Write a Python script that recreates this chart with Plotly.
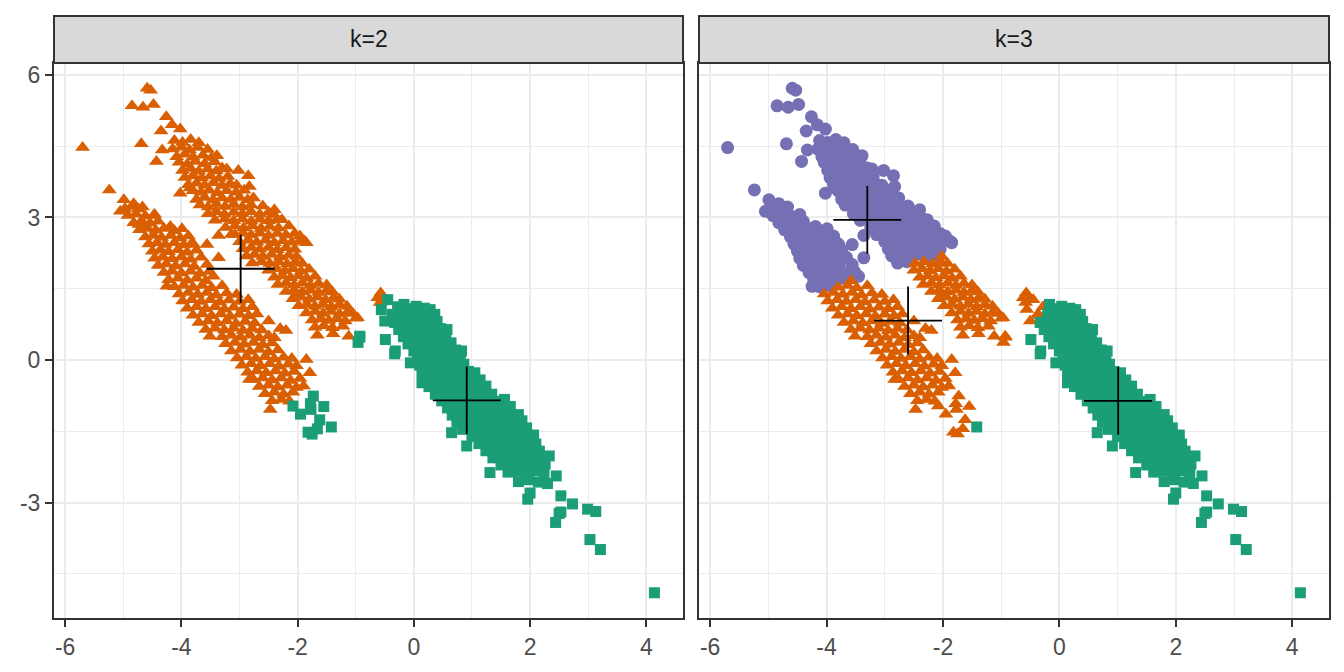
import numpy as np
import plotly.graph_objects as go

# ---------------- data ----------------
# upper (left-hand) band
U_x = [-4.59, -4.53, -4.85, -4.66, -4.48, -4.26, -4.16, -4.02, -4.35, -4.69, -4.33, -4.43, -4.02, -3.85,
       -3.39, -3.22, -3.02, -2.85, -2.83, -2.40, -2.27, -1.88, -1.85, -3.56, -3.36, -3.14, -3.36,
       -4.12, -3.98, -3.84, -3.70,
       -4.15, -4.00, -3.86, -3.72, -3.55,
       -4.08, -3.94, -3.80, -3.63, -3.48,
       -4.04, -3.90, -3.76, -3.60, -3.43,
       -3.98, -3.84, -3.70, -3.55, -3.40, -3.30,
       -3.94, -3.80, -3.65, -3.50, -3.35, -3.20,
       -3.88, -3.74, -3.60, -3.45, -3.30, -3.16, -3.05,
       -3.80, -3.66, -3.52, -3.38, -3.22, -3.06, -2.92,
       -3.74, -3.60, -3.45, -3.30, -3.15, -3.00, -2.86, -2.76,
       -3.68, -3.54, -3.40, -3.25, -3.10, -2.95, -2.80, -2.60,
       -3.54, -3.40, -3.26, -3.10, -2.95, -2.80, -2.65, -2.50, -2.42,
       -3.42, -3.25, -3.10, -2.95, -2.80, -2.65, -2.50, -2.35,
       -3.24, -3.08, -2.93, -2.78, -2.63, -2.48, -2.33, -2.15,
       -3.08, -2.94, -2.80, -2.65, -2.50, -2.35, -2.20, -2.05, -1.96,
       -3.00, -2.85, -2.70, -2.55, -2.40, -2.25, -2.10, -1.95,
       -2.94, -2.80, -2.65, -2.50, -2.35, -2.20, -2.05,
       -2.88, -2.74, -2.60, -2.45, -2.30, -2.15, -2.02,
       -2.78, -2.62, -2.48, -2.33, -2.18, -2.04, -1.92,
       -2.50, -2.36, -2.22, -2.08, -1.94, -1.80,
       -2.40, -2.26, -2.12, -1.98, -1.84, -1.70,
       -2.34, -2.20, -2.06, -1.92, -1.78, -1.64, -1.50,
       -2.20, -2.06, -1.92, -1.78, -1.64, -1.50, -1.40,
       -2.08, -1.94, -1.80, -1.66, -1.52, -1.38, -1.28,
       -1.98, -1.84, -1.70, -1.56, -1.42, -1.28, -1.15,
       -1.85, -1.70, -1.56, -1.42, -1.28, -1.14, -1.05,
       -1.75, -1.60, -1.46, -1.32, -1.18, -1.00,
       -1.70, -1.55, -1.40, -1.22,
       -1.66, -1.39, -1.12, -0.93, -0.96,
       -2.05, -0.57, -0.62, -0.53, -0.58, -0.50, -0.97, -0.56, -0.45]
U_y = [5.72, 5.68, 5.35, 5.32, 5.38, 5.12, 4.95, 4.86, 4.82, 4.55, 4.42, 4.18, 3.51, 3.62,
       4.30, 4.02, 3.99, 3.88, 3.65, 3.16, 2.95, 2.50, 2.47, 2.43, 2.15, 2.64, 2.62,
       4.62, 4.58, 4.64, 4.57,
       4.44, 4.48, 4.42, 4.47, 4.43,
       4.28, 4.33, 4.27, 4.31, 4.26,
       4.16, 4.12, 4.18, 4.13, 4.17,
       3.99, 4.03, 3.97, 4.02, 3.98, 4.04,
       3.84, 3.88, 3.83, 3.87, 3.82, 3.86,
       3.69, 3.72, 3.68, 3.73, 3.67, 3.71, 3.68,
       3.56, 3.53, 3.57, 3.52, 3.56, 3.53, 3.57,
       3.38, 3.42, 3.37, 3.41, 3.38, 3.42, 3.37, 3.41,
       3.26, 3.22, 3.27, 3.23, 3.27, 3.22, 3.26, 3.24,
       3.08, 3.12, 3.07, 3.11, 3.08, 3.12, 3.07, 3.11, 3.06,
       2.94, 2.97, 2.93, 2.97, 2.92, 2.96, 2.93, 2.97,
       2.79, 2.82, 2.78, 2.82, 2.77, 2.81, 2.78, 2.82,
       2.64, 2.67, 2.63, 2.67, 2.62, 2.66, 2.63, 2.66, 2.61,
       2.49, 2.52, 2.48, 2.52, 2.47, 2.51, 2.48, 2.52,
       2.34, 2.37, 2.33, 2.37, 2.32, 2.36, 2.33,
       2.19, 2.22, 2.18, 2.22, 2.17, 2.21, 2.18,
       2.04, 2.07, 2.03, 2.07, 2.02, 2.06, 2.03,
       1.89, 1.92, 1.88, 1.92, 1.87, 1.91,
       1.74, 1.77, 1.73, 1.77, 1.72, 1.76,
       1.59, 1.62, 1.58, 1.62, 1.57, 1.61, 1.58,
       1.44, 1.47, 1.43, 1.47, 1.42, 1.46, 1.43,
       1.29, 1.32, 1.28, 1.32, 1.27, 1.31, 1.28,
       1.14, 1.17, 1.13, 1.17, 1.12, 1.16, 1.13,
       0.99, 1.02, 0.98, 1.02, 0.97, 1.01, 0.98,
       0.84, 0.87, 0.83, 0.87, 0.82, 0.88,
       0.69, 0.72, 0.68, 0.71,
       0.52, 0.55, 0.50, 0.48, 0.37,
       1.34, 1.41, 1.31, 1.30, 1.21, 0.82, 0.89, 1.06, 1.27]

# lower (left-hand) band
L_x = [-5.70, -5.24, -4.99, -5.05, -4.82, -4.67, -4.73, -4.48, -4.19, -3.99, -3.79, -3.45, -4.25, -3.51, -2.83, -2.47,
       -4.97, -4.85, -4.74,
       -4.92, -4.78, -4.62, -4.46,
       -4.82, -4.68, -4.54, -4.40,
       -4.72, -4.58, -4.44, -4.30, -4.12,
       -4.62, -4.48, -4.34, -4.18, -4.02, -3.88,
       -4.56, -4.42, -4.28, -4.12, -3.96, -3.82,
       -4.50, -4.36, -4.22, -4.06, -3.90, -3.74,
       -4.46, -4.32, -4.16, -4.00, -3.84, -3.66,
       -4.40, -4.26, -4.10, -3.94, -3.78, -3.56,
       -4.30, -4.16, -4.00, -3.84, -3.68, -3.52,
       -4.22, -4.06, -3.90, -3.74, -3.58,
       -4.12, -3.96, -3.80, -3.64, -3.48, -3.30,
       -4.04, -3.88, -3.72, -3.56, -3.40, -3.22, -3.05,
       -3.98, -3.82, -3.66, -3.50, -3.34, -3.18, -3.00, -2.85,
       -3.90, -3.74, -3.58, -3.42, -3.26, -3.10, -2.94, -2.78,
       -3.80, -3.64, -3.48, -3.32, -3.16, -3.00, -2.84, -2.70,
       -3.70, -3.54, -3.38, -3.22, -3.06, -2.90, -2.74, -2.50,
       -3.58, -3.42, -3.26, -3.10, -2.94, -2.78, -2.62, -2.30, -2.20,
       -3.30, -3.14, -2.98, -2.82, -2.66, -2.50, -2.40,
       -3.24, -3.08, -2.92, -2.76, -2.60, -2.44,
       -3.14, -2.98, -2.82, -2.66, -2.50, -2.34,
       -3.04, -2.88, -2.72, -2.56, -2.40, -2.24, -2.10, -1.85,
       -2.96, -2.80, -2.64, -2.48, -2.32, -2.16, -2.02,
       -2.86, -2.70, -2.54, -2.38, -2.22, -2.06, -1.79,
       -2.76, -2.60, -2.44, -2.28, -2.12, -1.96,
       -2.66, -2.50, -2.34, -2.18, -2.02, -1.90,
       -2.56, -2.40, -2.24, -2.08,
       -2.44, -2.28, -2.14,
       -1.73, -2.08, -1.95, -1.55, -1.78, -1.62, -1.77, -1.75, -1.82, -1.66, -1.42]
L_y = [4.47, 3.58, 3.37, 3.13, 3.29, 3.22, 2.85, 3.04, 2.81, 2.76, 2.43, 1.76, 1.55, 0.50, -0.41, -1.04,
       3.19, 3.23, 3.18,
       3.04, 3.07, 3.03, 3.06,
       2.89, 2.92, 2.88, 2.92,
       2.74, 2.77, 2.73, 2.77, 2.72,
       2.59, 2.62, 2.58, 2.62, 2.57, 2.61,
       2.44, 2.47, 2.43, 2.47, 2.42, 2.46,
       2.29, 2.32, 2.28, 2.32, 2.27, 2.31,
       2.14, 2.17, 2.13, 2.17, 2.12, 2.16,
       1.99, 2.02, 1.98, 2.02, 1.97, 2.01,
       1.84, 1.87, 1.83, 1.87, 1.82, 1.86,
       1.69, 1.72, 1.68, 1.72, 1.67,
       1.54, 1.57, 1.53, 1.57, 1.52, 1.56,
       1.39, 1.42, 1.38, 1.42, 1.37, 1.41, 1.38,
       1.24, 1.27, 1.23, 1.27, 1.22, 1.26, 1.23, 1.27,
       1.09, 1.12, 1.08, 1.12, 1.07, 1.11, 1.08, 1.12,
       0.94, 0.97, 0.93, 0.97, 0.92, 0.96, 0.93, 0.97,
       0.79, 0.82, 0.78, 0.82, 0.77, 0.81, 0.78, 0.82,
       0.64, 0.67, 0.63, 0.67, 0.62, 0.66, 0.63, 0.66, 0.62,
       0.49, 0.52, 0.48, 0.52, 0.47, 0.51, 0.47,
       0.34, 0.37, 0.33, 0.37, 0.32, 0.36,
       0.19, 0.22, 0.18, 0.22, 0.17, 0.21,
       0.04, 0.07, 0.03, 0.07, 0.02, 0.06, 0.03, 0.01,
       -0.11, -0.08, -0.12, -0.08, -0.13, -0.09, -0.12,
       -0.26, -0.23, -0.27, -0.23, -0.28, -0.24, -0.27,
       -0.41, -0.38, -0.42, -0.38, -0.43, -0.39,
       -0.56, -0.53, -0.57, -0.53, -0.58, -0.55,
       -0.71, -0.68, -0.72, -0.68,
       -0.86, -0.83, -0.87,
       -0.76, -0.97, -1.14, -0.98, -0.92, -1.26, -1.04, -1.56, -1.52, -1.45, -1.41]

# right-hand band
G_x = [-0.17, 0.28, -0.93, -0.49, -0.32, 0.57, 0.82, -0.06, 0.14, 0.37, 0.65, 0.91, 1.31,
       2.33, 2.45, 2.53, 1.96, 2.00, 2.73, 2.99, 3.13, 2.53, 2.44, 2.50, 3.03, 3.21, 4.14, -0.33, -0.37,
       -0.28, -0.12, 0.04, 0.18,
       -0.35, -0.20, -0.05, 0.10, 0.25, 0.36,
       -0.33, -0.18, -0.03, 0.12, 0.27, 0.40,
       -0.26, -0.12, 0.03, 0.18, 0.33, 0.46,
       -0.18, -0.04, 0.11, 0.26, 0.41, 0.55,
       -0.10, 0.05, 0.20, 0.35, 0.50, 0.64,
       0.00, 0.15, 0.30, 0.45, 0.60, 0.72,
       0.06, 0.21, 0.36, 0.51, 0.66, 0.80,
       0.10, 0.25, 0.40, 0.55, 0.70, 0.86,
       0.14, 0.30, 0.46, 0.62, 0.78, 0.94, 1.05,
       0.20, 0.36, 0.52, 0.68, 0.84, 1.00, 1.14,
       0.26, 0.42, 0.58, 0.74, 0.90, 1.06, 1.24,
       0.40, 0.56, 0.72, 0.88, 1.04, 1.20, 1.34,
       0.48, 0.64, 0.80, 0.96, 1.12, 1.28, 1.44, 1.56,
       0.58, 0.74, 0.90, 1.06, 1.22, 1.38, 1.54, 1.66,
       0.66, 0.82, 0.98, 1.14, 1.30, 1.46, 1.62, 1.80,
       0.74, 0.90, 1.06, 1.22, 1.38, 1.54, 1.70, 1.86,
       0.84, 1.00, 1.16, 1.32, 1.48, 1.64, 1.80, 1.94,
       1.00, 1.16, 1.32, 1.48, 1.64, 1.80, 1.96, 2.06,
       1.12, 1.28, 1.44, 1.60, 1.76, 1.92, 2.10,
       1.24, 1.40, 1.56, 1.72, 1.88, 2.04, 2.16,
       1.36, 1.52, 1.68, 1.84, 2.00, 2.16,
       1.50, 1.66, 1.82, 1.98, 2.14, 2.26,
       1.62, 1.78, 1.94, 2.10, 2.24,
       1.80, 1.98, 2.14, 2.30]
G_y = [1.17, 1.06, 0.50, 0.43, 0.19, 0.64, 0.19, -0.06, -0.48, -0.72, -1.53, -1.81, -2.37,
       -2.02, -2.44, -2.86, -2.93, -2.80, -3.03, -3.14, -3.19, -3.20, -3.42, -3.23, -3.78, -3.99, -4.90, 0.13, 0.96,
       1.12, 1.08, 1.13, 1.09,
       0.94, 0.97, 0.93, 0.97, 0.92, 0.96,
       0.79, 0.82, 0.78, 0.82, 0.77, 0.81,
       0.64, 0.67, 0.63, 0.67, 0.62, 0.66,
       0.49, 0.52, 0.48, 0.52, 0.47, 0.51,
       0.34, 0.37, 0.33, 0.37, 0.32, 0.36,
       0.19, 0.22, 0.18, 0.22, 0.17, 0.21,
       0.04, 0.07, 0.03, 0.07, 0.02, 0.06,
       -0.11, -0.08, -0.12, -0.08, -0.13, -0.09,
       -0.26, -0.23, -0.27, -0.23, -0.28, -0.24, -0.27,
       -0.41, -0.38, -0.42, -0.38, -0.43, -0.39, -0.42,
       -0.56, -0.53, -0.57, -0.53, -0.58, -0.54, -0.55,
       -0.71, -0.68, -0.72, -0.68, -0.73, -0.69, -0.72,
       -0.86, -0.83, -0.87, -0.83, -0.88, -0.84, -0.87, -0.83,
       -1.01, -0.98, -1.02, -0.98, -1.03, -0.99, -1.02, -0.98,
       -1.16, -1.13, -1.17, -1.13, -1.18, -1.14, -1.17, -1.15,
       -1.31, -1.28, -1.32, -1.28, -1.33, -1.29, -1.32, -1.28,
       -1.46, -1.43, -1.47, -1.43, -1.48, -1.44, -1.47, -1.43,
       -1.61, -1.58, -1.62, -1.58, -1.63, -1.59, -1.62, -1.58,
       -1.76, -1.73, -1.77, -1.73, -1.78, -1.74, -1.77,
       -1.91, -1.88, -1.92, -1.88, -1.93, -1.89, -1.92,
       -2.06, -2.03, -2.07, -2.03, -2.08, -2.04,
       -2.21, -2.18, -2.22, -2.18, -2.23, -2.19,
       -2.36, -2.33, -2.37, -2.33, -2.38,
       -2.56, -2.52, -2.57, -2.60]

# cluster centres
k2_cx = [-2.98, 0.91]
k2_cy = [1.92, -0.85]
k3_cx = [-3.30, -2.60, 1.01]
k3_cy = [2.95, 0.83, -0.86]

facet_labels = ["k=2", "k=3"]
x_ticks = [-6, -4, -2, 0, 2, 4]
y_ticks = [-3, 0, 3, 6]

# ---------------- styling ----------------
ORANGE, GREEN, PURPLE = "#D95F02", "#1B9E77", "#7570B3"
k2_style = [("triangle-up", ORANGE, 13), ("square", GREEN, 11)]
k3_style = [("circle", PURPLE, 13), ("triangle-up", ORANGE, 13), ("square", GREEN, 11)]

FONT = "Liberation Sans Narrow, Arial Narrow, Liberation Sans, Arial, sans-serif"

px_all = np.array(U_x + L_x + G_x)
py_all = np.array(U_y + L_y + G_y)


def assign(cx, cy):
    d = (px_all[:, None] - np.array(cx)[None, :]) ** 2 + (py_all[:, None] - np.array(cy)[None, :]) ** 2
    return d.argmin(axis=1)


fig = go.Figure()

panels = [
    ("x", "y", k2_cx, k2_cy, k2_style),
    ("x2", "y2", k3_cx, k3_cy, k3_style),
]
for xa, ya, cx, cy, style in panels:
    lab = assign(cx, cy)
    for j, (sym, col, sz) in enumerate(style):
        m = lab == j
        fig.add_trace(go.Scatter(
            x=px_all[m], y=py_all[m], xaxis=xa, yaxis=ya, mode="markers",
            marker=dict(symbol=sym, color=col, size=sz, line=dict(width=0)),
            showlegend=False, hoverinfo="skip"))
    fig.add_trace(go.Scatter(
        x=cx, y=cy, xaxis=xa, yaxis=ya, mode="markers",
        marker=dict(symbol="cross-thin", size=48.5, color="black",
                    line=dict(width=1.8, color="black")),
        showlegend=False, hoverinfo="skip"))

# the page body adds an 8px offset, so the figure is 8px smaller and shifted
OFF = 8
W, H = 1344 - OFF, 672 - OFF
ml, mr, mt, mb = 50 - OFF, 15, 63 - OFF, 54
pw = W - ml - mr
d1 = [0, (681 - 50) / pw]
d2 = [(697 - 50) / pw, 1]

xrange_ = [-6.192, 4.632]
yrange_ = [-5.431, 6.251]

common = dict(showline=True, mirror=True, linecolor="#333333", linewidth=2,
              showgrid=True, gridcolor="#EBEBEB", gridwidth=2.2, zeroline=False)

TICKFONT = dict(family=FONT, size=23, color="#4D4D4D")
xax = dict(common, range=xrange_, tickmode="array", tickvals=x_ticks,
           ticktext=[str(v) for v in x_ticks], ticks="outside", ticklen=7, tickwidth=2,
           tickcolor="#333333", tickfont=TICKFONT,
           minor=dict(tickmode="array", tickvals=[-5, -3, -1, 1, 3], showgrid=True,
                      gridcolor="#EBEBEB", gridwidth=1.1, ticks=""))
yax = dict(common, range=yrange_, tickmode="array", tickvals=y_ticks,
           ticktext=[str(v) for v in y_ticks],
           minor=dict(tickmode="array", tickvals=[-4.5, -1.5, 1.5, 4.5], showgrid=True,
                      gridcolor="#EBEBEB", gridwidth=1.1, ticks=""))

strip_h = 47 / (H - mt - mb)
shapes, annotations = [], []
for dom, lab in zip([d1, d2], facet_labels):
    shapes.append(dict(type="rect", xref="paper", yref="paper", x0=dom[0], x1=dom[1],
                       y0=1.0, y1=1.0 + strip_h, fillcolor="#D9D9D9",
                       line=dict(color="#333333", width=2), layer="above"))
    annotations.append(dict(xref="paper", yref="paper", x=(dom[0] + dom[1]) / 2,
                            y=1.0 + strip_h / 2, text=lab, showarrow=False,
                            xanchor="center", yanchor="middle",
                            font=dict(family=FONT, size=23, color="#1A1A1A")))

fig.update_layout(
    width=W, height=H, margin=dict(l=ml, r=mr, t=mt, b=mb),
    paper_bgcolor="white", plot_bgcolor="white",
    xaxis=dict(xax, domain=d1, anchor="y"),
    xaxis2=dict(xax, domain=d2, anchor="y2"),
    yaxis=dict(yax, domain=[0, 1], anchor="x", ticks="outside", ticklen=7, tickwidth=2,
               tickcolor="#333333", tickfont=TICKFONT),
    yaxis2=dict(yax, domain=[0, 1], anchor="x2", showticklabels=False, ticks=""),
    shapes=shapes, annotations=annotations,
    font=dict(family=FONT),
)

fig.write_html("out.html")
